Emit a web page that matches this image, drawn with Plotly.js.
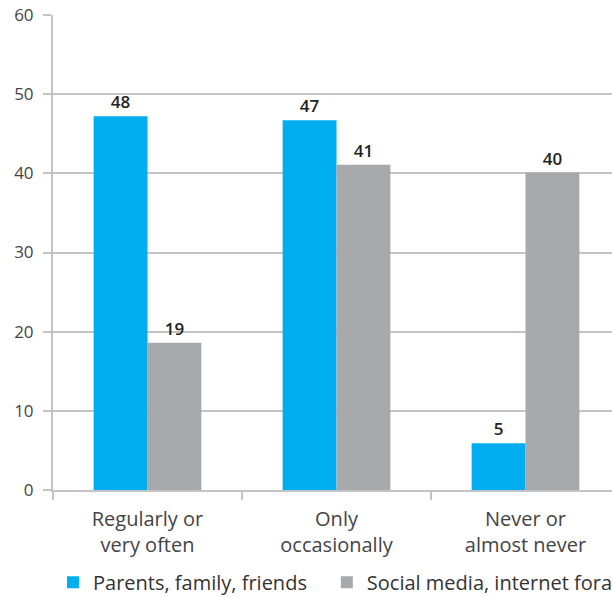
<!DOCTYPE html>
<html>
<head>
<meta charset="utf-8">
<script src="https://cdn.plot.ly/plotly-3.0.1.min.js"></script>
<style>
html,body{margin:0;padding:0;overflow:hidden;background:#fff;}
#chart{width:620px;height:597px;}
</style>
</head>
<body>
<div id="chart"></div>
<script>
const categories = ["Regularly or<br>very often", "Only<br>occasionally", "Never or<br>almost never"];
const seriesNames = ["Parents, family, friends", "Social media, internet fora"];
const parentsValues = [47.2, 46.7, 5.9];
const socialValues = [18.6, 41.1, 40.1];
const parentsLabels = ["48", "47", "5"];
const socialLabels = ["19", "41", "40"];
const yTicks = [0, 10, 20, 30, 40, 50, 60];

const font = "Open Sans, Noto Sans, sans-serif";
const textCommon = {
  type: "bar",
  textposition: "outside",
  cliponaxis: false,
  textfont: {family: font, size: 17, color: "#222", weight: 600},
  hoverinfo: "skip"
};

const data = [
  Object.assign({}, textCommon, {
    x: categories, y: parentsValues, text: parentsLabels, name: seriesNames[0],
    marker: {color: "#00AEEF"}, legend: "legend"
  }),
  Object.assign({}, textCommon, {
    x: categories, y: socialValues, text: socialLabels, name: seriesNames[1],
    marker: {color: "#A7A9AC"}, legend: "legend2"
  })
];

const legendCommon = {
  orientation: "h",
  xanchor: "left",
  y: -0.194, yanchor: "middle",
  font: {family: font, size: 20, color: "#333"},
  itemwidth: 30,
  bgcolor: "rgba(0,0,0,0)"
};

const layout = {
  width: 620, height: 597,
  margin: {l: 53, r: 0, t: 15, b: 107, autoexpand: false},
  paper_bgcolor: "#fff", plot_bgcolor: "#fff",
  barmode: "group",
  bargap: 0.43, bargroupgap: 0,
  font: {family: font, size: 16, color: "#444"},
  xaxis: {
    type: "category",
    tickson: "boundaries",
    ticks: "outside", ticklen: 8, tickcolor: "#c4c4c4", tickwidth: 2,
    showline: true, linecolor: "#c4c4c4", linewidth: 2,
    showgrid: false,
    ticklabelstandoff: 10,
    tickfont: {family: font, size: 20, color: "#444"},
    fixedrange: true
  },
  yaxis: {
    range: [0, 60],
    tickvals: yTicks,
    ticktext: yTicks.map(String),
    ticks: "outside", ticklen: 8, tickcolor: "#c4c4c4", tickwidth: 2,
    showline: true, linecolor: "#c4c4c4", linewidth: 2,
    showgrid: true, gridcolor: "#c4c4c4", gridwidth: 2,
    zeroline: false,
    ticklabelstandoff: 6,
    tickfont: {family: font, size: 17, color: "#444"},
    fixedrange: true
  },
  showlegend: true,
  legend: Object.assign({}, legendCommon, {x: 0.0}),
  legend2: Object.assign({}, legendCommon, {x: 0.483})
};

Plotly.newPlot("chart", data, layout, {displayModeBar: false, staticPlot: true});
</script>
</body>
</html>
